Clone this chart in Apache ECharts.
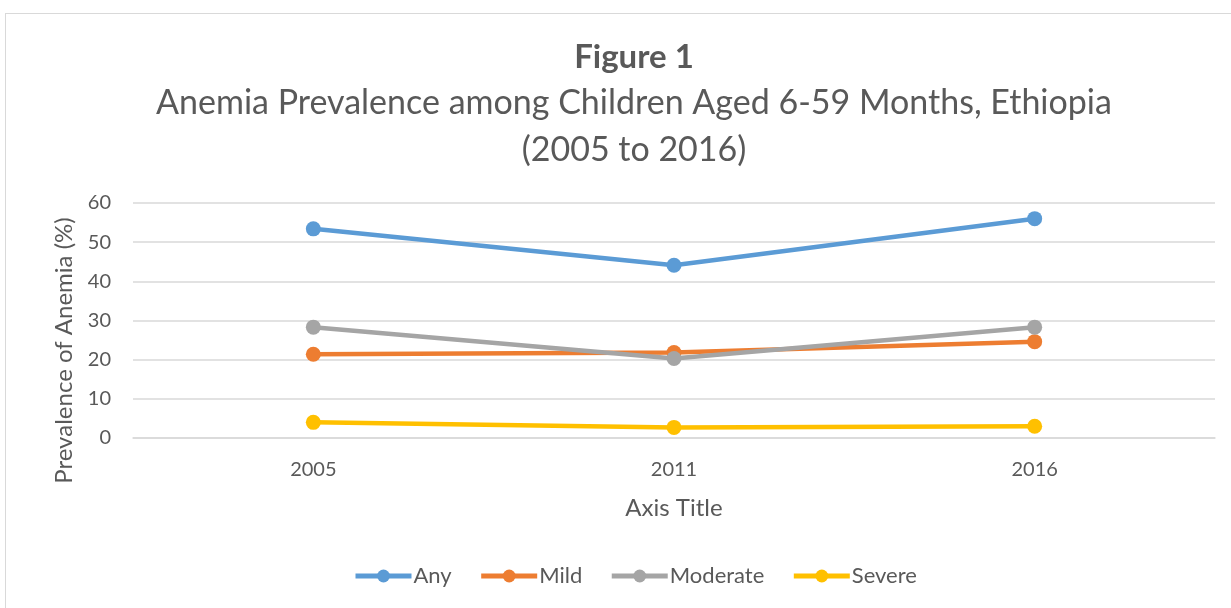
<!DOCTYPE html>
<html>
<head>
<meta charset="utf-8">
<script src="https://cdn.jsdelivr.net/npm/echarts@6/dist/echarts.min.js"></script>
<style>
  html, body { margin: 0; padding: 0; background: #fff; }
  #frame { position: absolute; left: 5px; top: 13px; width: 1300px; height: 700px; border: 1px solid #d9d9d9; box-sizing: border-box; }
  #chart { position: absolute; left: 0; top: 0; width: 1231px; height: 608px; }
</style>
</head>
<body>
<div id="frame"></div>
<div id="chart"></div>
<script>
// Survey years on the x axis
const years = ['2005', '2011', '2016'];

// Anemia prevalence (%) by severity
const anyAnemia = [53.4, 44.1, 56.0];
const mildAnemia = [21.4, 21.8, 24.6];
const moderateAnemia = [28.3, 20.3, 28.3];
const severeAnemia = [4.0, 2.7, 3.0];

const seriesNames = ['Any', 'Mild', 'Moderate', 'Severe'];
const seriesValues = [anyAnemia, mildAnemia, moderateAnemia, severeAnemia];
const seriesColors = ['#5B9BD5', '#ED7D31', '#A5A5A5', '#FFC000'];

const FONT = 'Lato, "Open Sans", sans-serif';
const TEXT = '#595959';

const chart = echarts.init(document.getElementById('chart'), null, { renderer: 'canvas' });

chart.setOption({
  backgroundColor: 'transparent',
  animation: false,
  title: [
    {
      text: 'Figure 1',
      left: 629,
      textAlign: 'center',
      top: 36,
      textStyle: { fontFamily: FONT, fontSize: 33, fontWeight: 'bold', color: TEXT }
    },
    {
      text: 'Anemia Prevalence among Children Aged 6-59 Months, Ethiopia\n(2005 to 2016)',
      left: 629,
      textAlign: 'center',
      top: 75,
      textStyle: { fontFamily: FONT, fontSize: 34, fontWeight: 'normal', color: TEXT, lineHeight: 47 }
    }
  ],
  legend: {
    bottom: 16,
    left: 348,
    itemWidth: 56,
    itemHeight: 16,
    itemGap: 27,
    lineStyle: { width: 5 },
    textStyle: { fontFamily: FONT, fontSize: 22, color: TEXT, padding: [0, 0, 0, -3] },
    data: seriesNames
  },
  grid: { left: 133, right: 16, top: 203, bottom: 170, containLabel: false },
  xAxis: {
    type: 'category',
    data: years,
    boundaryGap: true,
    name: 'Axis Title',
    nameLocation: 'middle',
    nameGap: 58,
    nameTextStyle: { fontFamily: FONT, fontSize: 24, color: TEXT },
    axisLine: { show: true, lineStyle: { color: '#d9d9d9', width: 1.5 } },
    axisTick: { show: false },
    axisLabel: { fontFamily: FONT, fontSize: 20, color: TEXT, margin: 22 }
  },
  yAxis: {
    type: 'value',
    min: 0,
    max: 60,
    interval: 10,
    name: 'Prevalence of Anemia (%)',
    nameLocation: 'middle',
    nameGap: 57,
    nameTextStyle: { fontFamily: FONT, fontSize: 24, color: TEXT, padding: [0, 60, 0, 0] },
    axisLine: { show: false },
    axisTick: { show: false },
    axisLabel: { fontFamily: FONT, fontSize: 20, color: TEXT, margin: 22 },
    splitLine: { lineStyle: { color: '#d9d9d9', width: 1.5 } }
  },
  series: seriesNames.map((name, i) => ({
    name,
    type: 'line',
    data: seriesValues[i],
    symbol: 'circle',
    symbolSize: 15,
    color: seriesColors[i],
    lineStyle: { width: 4.5, color: seriesColors[i] },
    itemStyle: { color: seriesColors[i] }
  }))
});
</script>
</body>
</html>
